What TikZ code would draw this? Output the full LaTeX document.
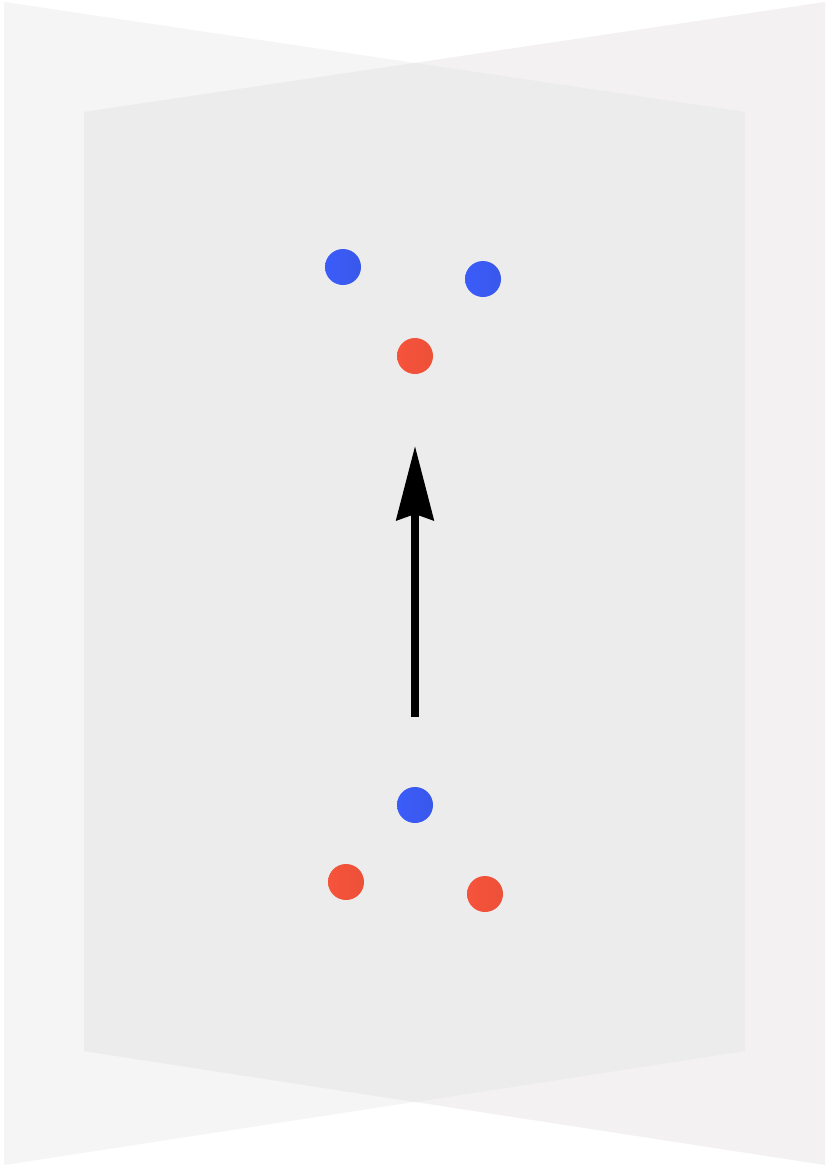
\documentclass[tikz,border=0pt]{standalone}
\usetikzlibrary{arrows.meta}
\definecolor{leftpanel}{HTML}{F4F5F4}
\definecolor{rightpanel}{HTML}{F3F1F1}
\definecolor{overlap}{HTML}{ECECEC}
\definecolor{blueA}{HTML}{3C5CFA}
\definecolor{blueB}{HTML}{3858EA}
\definecolor{redA}{HTML}{F6533B}
\definecolor{redB}{HTML}{EC5138}
\tikzset{
  atomblue/.style={circle, minimum size=36pt, inner sep=0pt, left color=blueA, right color=blueB, draw=none},
  atomred/.style={circle, minimum size=36pt, inner sep=0pt, left color=redA, right color=redB, draw=none},
  bigarrow/.style={line width=7.5pt, -{Stealth[length=74pt, width=37pt, inset=6pt]}, black}
}
\begin{document}
\begin{tikzpicture}[x=1pt,y=-1pt]
\useasboundingbox (0,0) rectangle (830,1167);
\fill[white] (0,0) rectangle (830,1167);
% left panel
\fill[leftpanel] (4,2) -- (745,112) -- (745,1051) -- (4,1165) -- cycle;
% right panel
\fill[rightpanel] (825,2) -- (84,112) -- (84,1051) -- (825,1165) -- cycle;
% overlap
\fill[overlap] (84,112) -- (415,63) -- (745,112) -- (745,1051) -- (415,1102) -- (84,1051) -- cycle;
% atoms top
\node[atomblue] (b1) at (343,267) {};
\node[atomblue] (b2) at (483,279) {};
\node[atomred] (r1) at (415,356) {};
% atoms bottom
\node[atomblue] (b3) at (415,805) {};
\node[atomred] (r2) at (346,882) {};
\node[atomred] (r3) at (485,894) {};
% arrow
\coordinate (tail) at (415,717);
\coordinate (tip) at (415,446);
\draw[bigarrow] (tail) -- (tip);
\end{tikzpicture}
\end{document}
